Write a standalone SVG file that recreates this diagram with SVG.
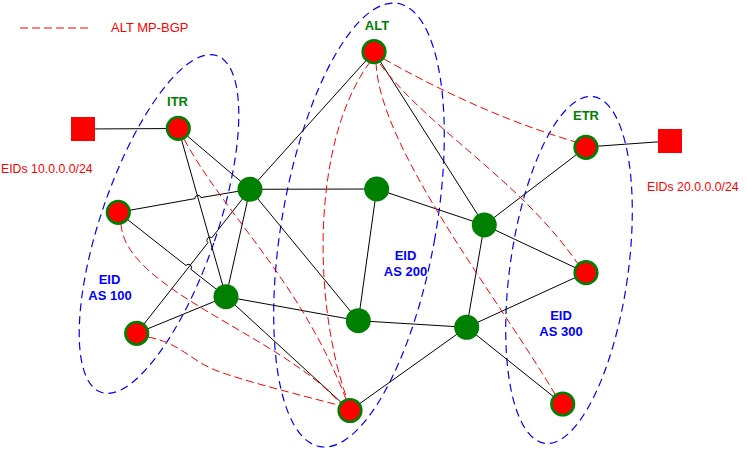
<svg xmlns="http://www.w3.org/2000/svg" width="747" height="452" viewBox="0 0 747 452">
<style>
.e{fill:none;stroke:#000;stroke-width:1}
.bgp{fill:none;stroke:#ff0000;stroke-width:1;stroke-dasharray:8,4}
.as{fill:none;stroke:#0000ff;stroke-width:1.2;stroke-dasharray:8,5}
.rn{fill:#ff0000;stroke:#008000;stroke-width:2.6}
.gn{fill:#008000}
.sq{fill:#ff0000}
.lbl{font-family:"Liberation Sans",Arial,sans-serif;font-weight:bold;font-size:13px;text-anchor:middle}
.g{fill:#008000}
.b{fill:#0000ff}
.r{font-family:"Liberation Sans",Arial,sans-serif;font-size:12.3px;fill:#ff0000}
</style>
<rect width="747" height="452" fill="#fff"/>
<g id="legend">
<path class="bgp" d="M20,28 H88"/>
<text class="r" x="111" y="31.5" style="font-size:13px">ALT MP-BGP</text>
</g>
<g id="domains">
<ellipse class="as" cx="159" cy="224" rx="58" ry="178" transform="rotate(19 159 224)"/>
<ellipse class="as" cx="359" cy="225" rx="77" ry="225" transform="rotate(10 359 225)"/>
<ellipse class="as" cx="569" cy="270" rx="59" ry="175" transform="rotate(8 569 270)"/>
</g>
<g id="connectors">
<path class="e" d="M83,129 L178,128.5"/>
<path class="e" d="M586,147 L670,141"/>
<path class="e" d="M178.3,128.3 L250,189.3"/>
<path class="e" d="M178.3,128.3 L226,296.7"/>
<path class="e" d="M118.3,212.3 L195,198.6 A3,3 0 0 1 200.9,197.6 L250,189.3"/>
<path class="e" d="M250,189.3 L211.8,237.8 A3,3 0 0 0 208,242.6 L136.7,333.3"/>
<path class="e" d="M118.3,212.3 L186,265.5 A3,3 0 0 1 190.8,269.3 L226,296.7"/>
<path class="e" d="M250,189.3 L226,296.7"/>
<path class="e" d="M250,189.3 L376.7,189"/>
<path class="e" d="M250,189.3 L374,51.7"/>
<path class="e" d="M250,189.3 L358.3,320.7"/>
<path class="e" d="M226,296.7 L136.7,333.3"/>
<path class="e" d="M226,296.7 L358.3,320.7"/>
<path class="e" d="M226,296.7 L350,410.5"/>
<path class="e" d="M376.7,189 L484.3,225"/>
<path class="e" d="M376.7,189 L358.3,320.7"/>
<path class="e" d="M374,51.7 L484.3,225"/>
<path class="e" d="M484.3,225 L586,147.3"/>
<path class="e" d="M484.3,225 L586,272.7"/>
<path class="e" d="M484.3,225 L466.7,327.3"/>
<path class="e" d="M358.3,320.7 L466.7,327.3"/>
<path class="e" d="M466.7,327.3 L586,272.7"/>
<path class="e" d="M466.7,327.3 L562.7,404"/>
<path class="e" d="M466.7,327.3 L350,410.5"/>
<path class="bgp" d="M184,139 C225,215 300,280 346,399"/>
<path class="bgp" d="M121,224 C125,290 280,335 340,403"/>
<path class="bgp" d="M148,337 C180,343 190,360 215,370 S300,395 338,405"/>
<path class="bgp" d="M370,62 C312,140 312,300 347,399"/>
<path class="bgp" d="M376,63 C380,150 500,300 556,396"/>
<path class="bgp" d="M380,64 C430,130 520,180 578,264"/>
<path class="bgp" d="M384,59 C430,85 500,120 576,142"/>
</g>
<g id="eids-left"><rect class="sq" x="71" y="117" width="24" height="24"/><text class="r" x="1" y="172.5">EIDs 10.0.0.0/24</text></g>
<g id="eids-right"><rect class="sq" x="658" y="129" width="24" height="24"/><text class="r" x="647" y="190.5">EIDs 20.0.0.0/24</text></g>
<g id="itr"><circle class="rn" cx="178.3" cy="128.3" r="11.3"/><text class="lbl g" x="177.5" y="106">ITR</text></g>
<g id="alt"><circle class="rn" cx="374" cy="51.7" r="11.3"/><text class="lbl g" x="377" y="29.5">ALT</text></g>
<g id="etr"><circle class="rn" cx="586" cy="147.3" r="11.3"/><text class="lbl g" x="586" y="120">ETR</text></g>
<g id="r4"><circle class="rn" cx="118.3" cy="212.3" r="11.3"/></g>
<g id="r5"><circle class="rn" cx="136.7" cy="333.3" r="11.3"/></g>
<g id="r6"><circle class="rn" cx="350" cy="410.5" r="11.3"/></g>
<g id="r7"><circle class="rn" cx="586" cy="272.7" r="11.3"/></g>
<g id="r8"><circle class="rn" cx="562.7" cy="404" r="11.3"/></g>
<g id="g1"><circle class="gn" cx="250" cy="189.3" r="12.5"/></g>
<g id="g2"><circle class="gn" cx="376.7" cy="189" r="12.5"/></g>
<g id="g3"><circle class="gn" cx="484.3" cy="225" r="12.5"/></g>
<g id="g4"><circle class="gn" cx="226" cy="296.7" r="12.5"/></g>
<g id="g5"><circle class="gn" cx="358.3" cy="320.7" r="12.5"/></g>
<g id="g6"><circle class="gn" cx="466.7" cy="327.3" r="12.5"/></g>
<g id="as100"><text class="lbl b" x="109.5" y="284">EID</text><text class="lbl b" x="110" y="300">AS 100</text></g>
<g id="as200"><text class="lbl b" x="405.5" y="260">EID</text><text class="lbl b" x="405.5" y="276">AS 200</text></g>
<g id="as300"><text class="lbl b" x="561" y="320">EID</text><text class="lbl b" x="561" y="336">AS 300</text></g>
</svg>
